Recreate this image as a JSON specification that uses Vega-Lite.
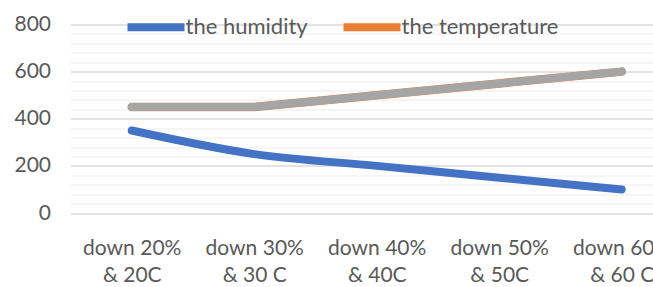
{
  "$schema": "https://vega.github.io/schema/vega-lite/v6.json",
  "autosize": {"type": "none"},
  "width": 582.5,
  "height": 188.5,
  "padding": {"left": 70.5, "top": 24.5, "right": 0, "bottom": 74},
  "background": "white",
  "config": {
    "view": {"stroke": null},
    "font": "Lato",
    "axis": {"labelFont": "Lato", "labelColor": "#595959", "labelFontSize": 21}
  },
  "data": {
    "values": [
      {"category": "down 20% & 20C", "series": "the humidity", "value": 350},
      {"category": "down 30% & 30 C", "series": "the humidity", "value": 250},
      {"category": "down 40% & 40C", "series": "the humidity", "value": 200},
      {"category": "down 50% & 50C", "series": "the humidity", "value": 150},
      {"category": "down 60% & 60 C", "series": "the humidity", "value": 100},
      {"category": "down 20% & 20C", "series": "the temperature", "value": 450},
      {"category": "down 30% & 30 C", "series": "the temperature", "value": 450},
      {"category": "down 40% & 40C", "series": "the temperature", "value": 500},
      {"category": "down 50% & 50C", "series": "the temperature", "value": 550},
      {"category": "down 60% & 60 C", "series": "the temperature", "value": 600}
    ]
  },
  "encoding": {
    "x": {
      "field": "category",
      "type": "ordinal",
      "sort": null,
      "scale": {"type": "point", "padding": 0.3776, "align": 0.662},
      "axis": {
        "title": null,
        "domain": false,
        "ticks": false,
        "grid": false,
        "labelAngle": 0,
        "labelPadding": 24,
        "labelLineHeight": 27,
        "labelExpr": "[split(datum.value, ' & ')[0], '& ' + split(datum.value, ' & ')[1]]"
      }
    },
    "y": {
      "field": "value",
      "type": "quantitative",
      "scale": {"domain": [0, 800], "nice": false},
      "axis": null
    }
  },
  "layer": [
    {
      "mark": {"type": "line", "strokeWidth": 8, "strokeCap": "round", "strokeJoin": "round", "interpolate": "monotone"},
      "transform": [{"filter": "datum.series === 'the humidity'"}],
      "encoding": {
        "y": {
          "field": "value", "type": "quantitative",
          "axis": {
            "orient": "right",
            "values": [40, 80, 120, 160, 240, 280, 320, 360, 440, 480, 520, 560, 640, 680, 720, 760],
            "grid": true, "gridColor": "#F2F2F2", "gridWidth": 1.3,
            "labels": false, "ticks": false, "domain": false, "title": null
          }
        },
        "color": {
          "field": "series", "type": "nominal",
          "scale": {"domain": ["the humidity", "the temperature"], "range": ["#4472C4", "#ED7D31"]},
          "legend": {
            "orient": "none",
            "legendX": 53,
            "legendY": -30,
            "direction": "horizontal",
            "title": null,
            "symbolType": "stroke",
            "symbolSize": 3249,
            "symbolStrokeWidth": 8,
            "labelFont": "Lato",
            "labelFontSize": 22,
            "labelColor": "#595959",
            "labelOffset": -3,
            "columnPadding": 19
          }
        }
      }
    },
    {
      "mark": {"type": "line", "strokeWidth": 8.5, "strokeCap": "round", "strokeJoin": "round"},
      "transform": [{"filter": "datum.series === 'the temperature'"}],
      "encoding": {
        "y": {
          "field": "value", "type": "quantitative",
          "axis": {
            "orient": "left",
            "values": [0, 200, 400, 600, 800],
            "grid": true, "gridColor": "#D9D9D9", "gridWidth": 1.3,
            "ticks": false, "domain": false, "title": null, "labelPadding": 20
          }
        },
        "color": {"field": "series", "type": "nominal"}
      }
    },
    {
      "mark": {"type": "line", "strokeWidth": 8, "strokeCap": "round", "strokeJoin": "round", "color": "#A5A5A5"},
      "transform": [{"filter": "datum.series === 'the temperature'"}],
      "encoding": {}
    }
  ],
  "resolve": {"axis": {"y": "independent"}}
}
